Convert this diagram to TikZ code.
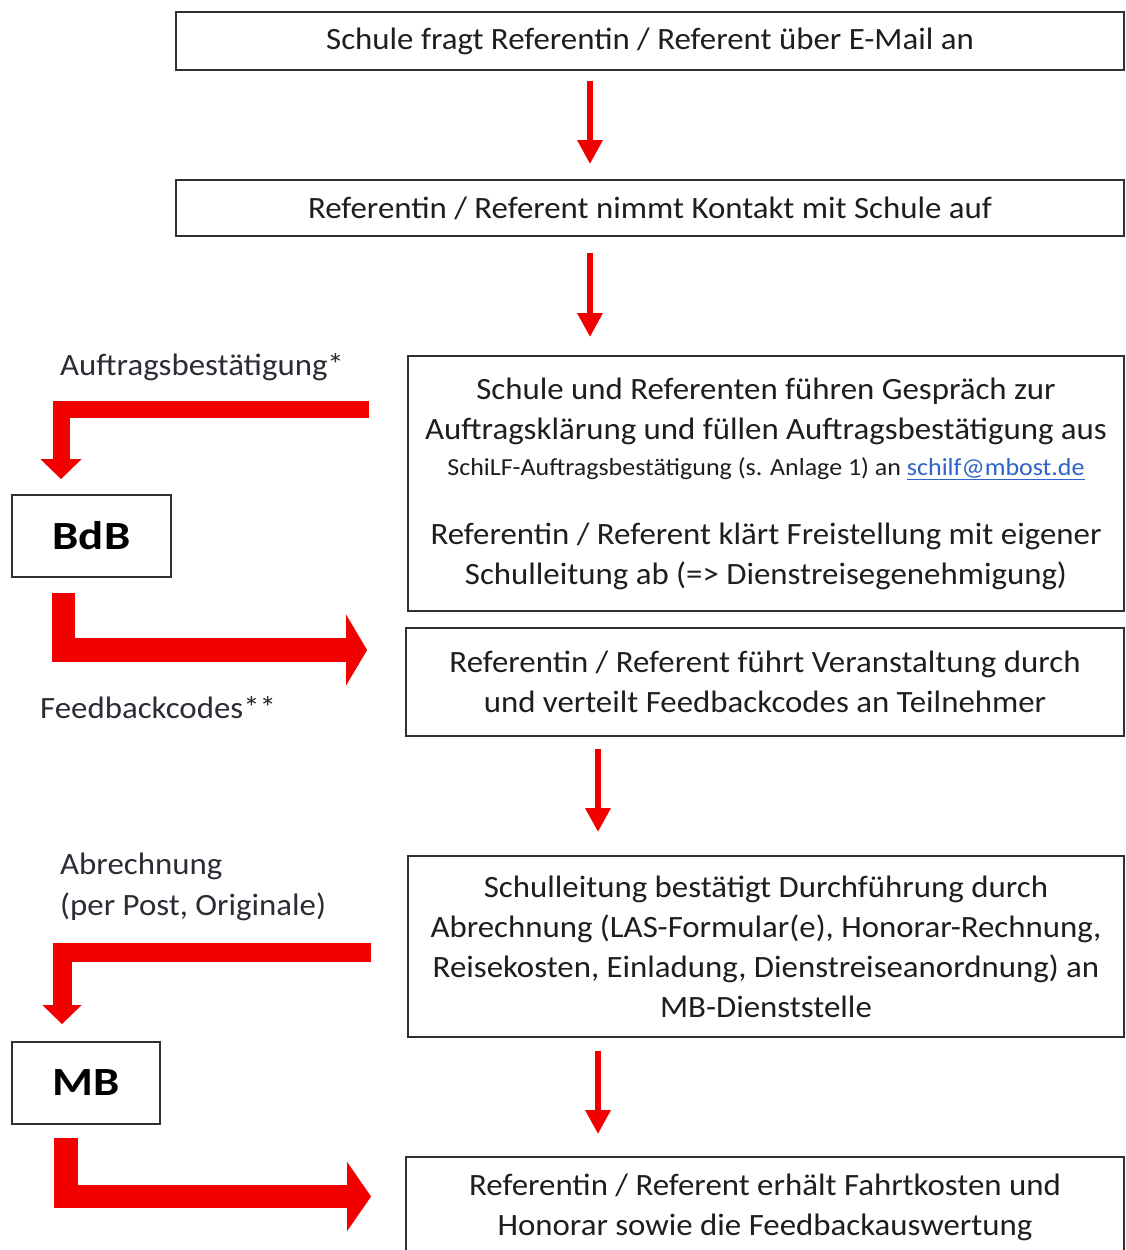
\documentclass[tikz,border=0pt]{standalone}
\usepackage{fontspec}
\setmainfont{Carlito}[FakeStretch=1.06]
\newfontfamily\sidefont{Carlito}[FakeStretch=1.17]
\usetikzlibrary{arrows.meta,calc}
\definecolor{arrowred}{HTML}{F20000}
\definecolor{txt}{HTML}{1E1E1E}
\definecolor{lbl}{HTML}{2C2C36}
\definecolor{linkblue}{HTML}{2E64C8}
\definecolor{frame}{HTML}{303030}
\begin{document}
\begin{tikzpicture}[x=1pt,y=-1pt,
  box/.style={draw=frame, line width=1.8pt, align=center, inner sep=0pt, text=txt,
    font=\fontsize{31}{40}\selectfont},
  sidebox/.style={draw=frame, line width=1.8pt, inner sep=0pt, text=black,
    font=\sidefont\fontsize{40}{44}\selectfont\bfseries},
  lab/.style={anchor=west, inner sep=0pt, text=lbl, align=left, font=\fontsize{31}{41}\selectfont},
  thinarrow/.style={draw=arrowred, line width=6pt, -{Triangle[width=24pt,length=24pt]}},
  bigarrow/.style={draw=arrowred, line join=miter, line cap=butt},
]
\useasboundingbox (0,0) rectangle (1126,1250);
\fill[white] (0,0) rectangle (1126,1250);

% main boxes
\node[box, minimum width=948pt, minimum height=58pt] (b1) at (650,41)
  {Schule fragt Referentin / Referent über E-Mail an};
\node[box, minimum width=948pt, minimum height=56pt] (b2) at (650,208)
  {Referentin / Referent nimmt Kontakt mit Schule auf};
\node[box, minimum width=716pt, minimum height=255pt] (b3) at (766,483.5)
  {Schule und Referenten führen Gespräch zur\\
   Auftragsklärung und füllen Auftragsbestätigung aus\\[-4pt]
   {\fontsize{24.5}{28}\selectfont SchiLF-Auftragsbestätigung (s. Anlage 1) an \textcolor{linkblue}{\underline{schilf@mbost.de}}}\\[29pt]
   Referentin / Referent klärt Freistellung mit eigener\\
   Schulleitung ab (=> Dienstreisegenehmigung)};
\node[box, minimum width=718pt, minimum height=108pt] (b4) at (765,682)
  {Referentin / Referent führt Veranstaltung durch\\
   und verteilt Feedbackcodes an Teilnehmer};
\node[box, minimum width=716pt, minimum height=181pt] (b5) at (766,946.5)
  {Schulleitung bestätigt Durchführung durch\\
   Abrechnung (LAS-Formular(e), Honorar-Rechnung,\\
   Reisekosten, Einladung, Dienstreiseanordnung) an\\
   MB-Dienststelle};
\node[box, minimum width=718pt, minimum height=100pt] (b6) at (765,1207)
  {Referentin / Referent erhält Fahrtkosten und\\
   Honorar sowie die Feedbackauswertung};

% side boxes
\node[sidebox, minimum width=159pt, minimum height=82pt] (bdb) at (91.5,536) {BdB};
\node[sidebox, minimum width=148pt, minimum height=82pt] (mb) at (86,1083) {MB};

% labels
\node[lab] (l1) at (60,367) {Auftragsbestätigung*};
\node[lab] (l2) at (40,708) {Feedbackcodes**};
\node[lab] (l3) at (60,886.5) {Abrechnung\\(per Post, Originale)};

% thin arrows
\coordinate (t1) at ($(b1.south)+(-60,0)$);
\coordinate (t2) at ($(b2.south)+(-60,0)$);
\coordinate (t3) at ($(b4.south)+(-167,0)$);
\coordinate (t4) at ($(b5.south)+(-168,0)$);
\draw[thinarrow, shorten <=10pt, shorten >=15pt] (t1) -- (t1 |- b2.north);
\draw[thinarrow, shorten <=16pt, shorten >=18pt] (t2) -- (t2 |- b3.north);
\draw[thinarrow, shorten <=12pt, shorten >=23pt] (t3) -- (t3 |- b5.north);
\draw[thinarrow, shorten <=13pt, shorten >=22pt] (t4) -- (t4 |- b6.north);

% thick arrows
\coordinate (a1s) at ($(b3.west)+(-38,0)$);
\coordinate (a1e) at ($(bdb.north)+(-30.5,0)$);
\draw[bigarrow, line width=17pt, -{Triangle[width=40pt,length=20pt]}, shorten >=15pt]
  (a1s |- 0,409.5) -| (a1e);

\coordinate (a2s) at ($(bdb.south)+(-28,0)$);
\draw[bigarrow, line width=23.5pt, -{Triangle[width=70pt,length=21pt]}, shorten <=15pt, shorten >=38pt]
  (a2s) |- (b4.west |- 0,650);

\coordinate (a3s) at ($(b5.west)+(-36,0)$);
\coordinate (a3e) at ($(mb.north)+(-24,0)$);
\draw[bigarrow, line width=19pt, -{Triangle[width=38pt,length=19pt]}, shorten >=17pt]
  (a3s |- 0,952.5) -| (a3e);

\coordinate (a4s) at ($(mb.south)+(-20,0)$);
\draw[bigarrow, line width=23.5pt, -{Triangle[width=68pt,length=24pt]}, shorten <=13pt, shorten >=34pt]
  (a4s) |- (b6.west |- 0,1196.5);
\end{tikzpicture}
\end{document}
